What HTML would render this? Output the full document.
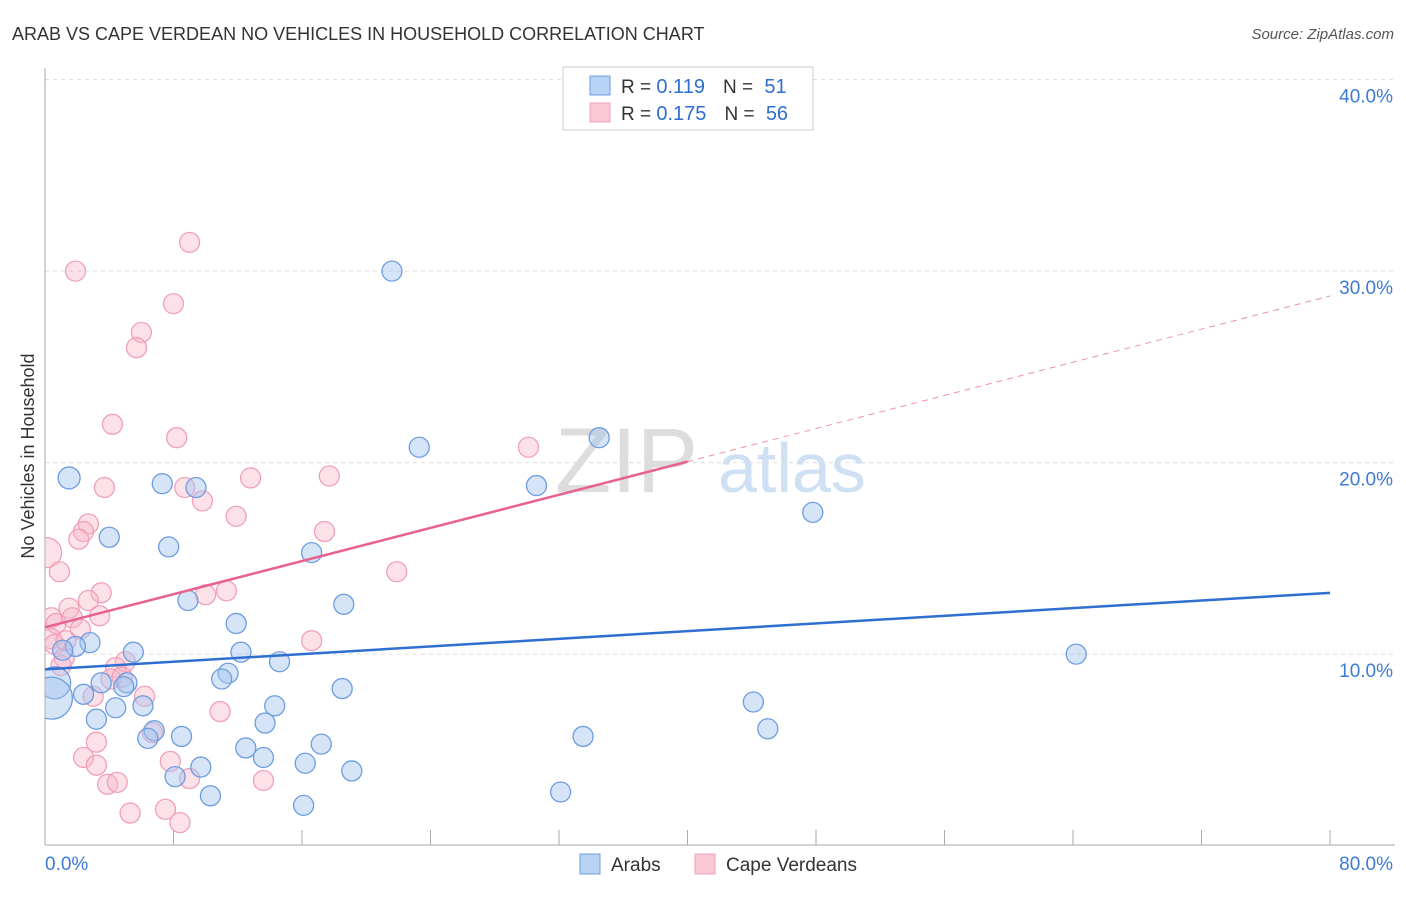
<!DOCTYPE html>
<html><head><meta charset="utf-8"><style>
body{margin:0;background:#fff;font-family:"Liberation Sans",sans-serif;}
svg text{font-family:"Liberation Sans",sans-serif;}
</style></head><body>
<svg id="chart" width="1406" height="892">
<defs><clipPath id="plotclip"><rect x="45" y="60" width="1360" height="785"/></clipPath></defs>
<text x="12" y="40" font-size="18" fill="#333">ARAB VS CAPE VERDEAN NO VEHICLES IN HOUSEHOLD CORRELATION CHART</text>
<text x="1394" y="39" font-size="15" fill="#555" font-style="italic" text-anchor="end">Source: ZipAtlas.com</text>
<text x="34" y="456" font-size="18" fill="#333" text-anchor="middle" transform="rotate(-90 34 456)">No Vehicles in Household</text>
<text x="555" y="492" font-size="92" fill="#ddd" font-family="Liberation Serif">ZIP</text>
<text x="718" y="492" font-size="70" fill="#cfe0f5">atlas</text>
<g id="grid"></g><g id="axes"></g><g id="pts" clip-path="url(#plotclip)"></g><g id="lines"></g>
<g>
<rect x="563" y="67" width="250" height="63" fill="#fff" stroke="#ccc"/>
<rect x="590" y="76" width="20" height="19" fill="#b8d3f5" stroke="#6d9de0"/>
<rect x="590" y="103" width="20" height="19" fill="#fbc8d6" stroke="#f0a0b8"/>
<text x="621" y="93" font-size="19" fill="#333">R = <tspan fill="#2f6fd0" font-size="20">0.119</tspan><tspan dx="18">N = </tspan><tspan fill="#2f6fd0" dx="6" font-size="20">51</tspan></text>
<text x="621" y="120" font-size="19" fill="#333">R = <tspan fill="#2f6fd0" font-size="20">0.175</tspan><tspan dx="18">N = </tspan><tspan fill="#2f6fd0" dx="6" font-size="20">56</tspan></text>
</g>
<g>
<rect x="580" y="854" width="20" height="20" fill="#b8d3f5" stroke="#6d9de0"/>
<text x="611" y="871" font-size="19" fill="#333">Arabs</text>
<rect x="695" y="854" width="20" height="20" fill="#fbc8d6" stroke="#f0a0b8"/>
<text x="726" y="871" font-size="19" fill="#333">Cape Verdeans</text>
</g>
</svg>
<script>
const yTicks=[10,20,30,40];
const xTickLabels=["0.0%","80.0%"];
const blueX=[1.5,7.3,9.4,4.0,7.7,16.6,8.9,18.6,11.9,2.8,1.9,5.5,1.1,12.2,14.6,11.4,11.0,3.5,5.1,4.9,0.6,0.4,18.5,2.4,6.1,4.4,14.3,3.2,6.8,6.4,13.7,8.5,12.5,13.6,17.2,8.1,9.7,16.2,19.1,10.3,16.1,21.6,23.3,34.5,30.6,47.8,64.2,44.1,45.0,33.5,32.1];
const blueY=[19.2,18.9,18.7,16.1,15.6,15.3,12.8,12.6,11.6,10.6,10.4,10.1,10.2,10.1,9.6,9.0,8.7,8.5,8.5,8.3,8.5,7.7,8.2,7.9,7.3,7.2,7.3,6.6,6.0,5.6,6.4,5.7,5.1,4.6,5.3,3.6,4.1,4.3,3.9,2.6,2.1,30.0,20.8,21.3,18.8,17.4,10.0,7.5,6.1,5.7,2.8];
const blueR=[11,10,10,10,10,10,10,10,10,10,10,10,10,10,10,10,10,10,10,10,16,21,10,10,10,10,10,10,10,10,10,10,10,10,10,10,10,10,10,10,10,10,10,10,10,10,10,10,10,10,10];
const pinkX=[9.0,1.9,8.0,6.0,5.7,4.2,8.2,30.1,17.7,12.8,3.7,8.7,9.8,11.9,2.7,2.4,2.1,17.4,0.1,0.9,21.9,3.5,2.7,1.5,11.3,10.0,0.4,0.7,1.7,2.2,0.4,0.6,16.6,5.0,4.4,1.2,1.0,4.1,4.8,6.2,3.0,10.9,6.7,3.2,2.4,3.2,7.8,9.0,3.9,4.5,13.6,5.3,7.5,8.4,1.3,3.4];
const pinkY=[31.5,30.0,28.3,26.8,26.0,22.0,21.3,20.8,19.3,19.2,18.7,18.7,18.0,17.2,16.8,16.4,16.0,16.4,15.3,14.3,14.3,13.2,12.8,12.4,13.3,13.1,11.9,11.6,11.9,11.3,10.8,10.5,10.7,9.6,9.3,9.8,9.4,8.7,8.8,7.8,7.8,7.0,5.9,5.4,4.6,4.2,4.4,3.5,3.2,3.3,3.4,1.7,1.9,1.2,10.7,12.0];
const blueTrend=[9.2,13.2];
const pinkTrend=[11.4,28.7];
const pinkSolidEnd=40;
const X=v=>45+v/80*1285, Y=v=>845.6-v*19.15;
const NS="http://www.w3.org/2000/svg";
function mk(tag,attrs,parent){const e=document.createElementNS(NS,tag);for(const k in attrs)e.setAttribute(k,attrs[k]);document.getElementById(parent).appendChild(e);return e;}
yTicks.forEach(t=>{
 const l=mk('line',{x1:45,x2:1395,y1:Y(t),y2:Y(t),stroke:'#ddd','stroke-dasharray':'4 4'},'grid');
 
 
 const tx=mk('text',{x:1393,y:Y(t)+23,'font-size':19,fill:'#3d7bd6','text-anchor':'end'},'grid');
 tx.textContent=t.toFixed(1)+'%';
 
 
});
const ax=mk('line',{x1:45,x2:45,y1:68,y2:845,stroke:'#aaa'},'axes');


const bx=mk('line',{x1:45,x2:1395,y1:845,y2:845,stroke:'#aaa'},'axes');


for(let i=0;i<=10;i++){const t=mk('line',{x1:X(i*8),x2:X(i*8),y1:830,y2:845,stroke:'#aaa'},'axes');
 
 }
[[0,'start',45],[1,'end',1393]].forEach(([i,a,x])=>{const t=mk('text',{x:x,y:870,'font-size':19,fill:'#3d7bd6','text-anchor':a},'axes');t.textContent=xTickLabels[i];
 
 });
pinkX.forEach((v,i)=>{const c=mk('circle',{cx:X(v),cy:Y(pinkY[i]),r:(i==18?15:10),fill:'rgba(248,180,200,0.4)',stroke:'#f0a0b8','stroke-width':1.3},'pts');
 
 });
blueX.forEach((v,i)=>{const c=mk('circle',{cx:X(v),cy:Y(blueY[i]),r:blueR[i],fill:'rgba(164,196,240,0.45)',stroke:'#6d9de0','stroke-width':1.3},'pts');
 
 });
const pAt=v=>pinkTrend[0]+(pinkTrend[1]-pinkTrend[0])*v/80;
const bl=mk('line',{x1:X(0),y1:Y(blueTrend[0]),x2:X(80),y2:Y(blueTrend[1]),stroke:'#2f6fd0','stroke-width':2.5},'lines');


const pl=mk('line',{x1:X(0),y1:Y(pAt(0)),x2:X(pinkSolidEnd),y2:Y(pAt(pinkSolidEnd)),stroke:'#e8628f','stroke-width':2.5},'lines');


const pd=mk('line',{x1:X(pinkSolidEnd),y1:Y(pAt(pinkSolidEnd)),x2:X(80),y2:Y(pAt(80)),stroke:'#e8628f','stroke-width':1,'stroke-dasharray':'6 5',opacity:0.7},'lines');


</script>
</body></html>
